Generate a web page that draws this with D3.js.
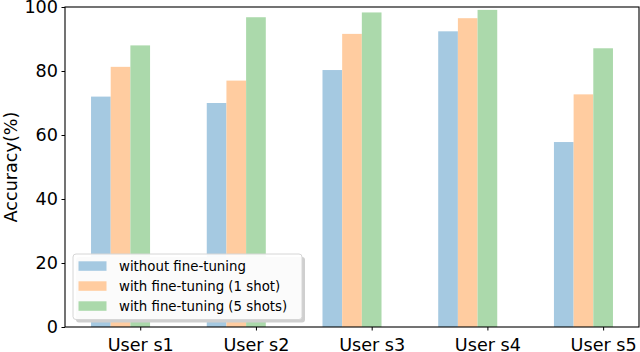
<!DOCTYPE html>
<html><head><meta charset="utf-8">
<script src="https://cdn.jsdelivr.net/npm/d3@7"></script>
<style>body{margin:0;background:#fff}svg{display:block;font-family:"DejaVu Sans",sans-serif}</style>
</head><body><svg id="c" width="640" height="352"></svg>
<script>
const categories = ["User s1","User s2","User s3","User s4","User s5"];
const seriesNames = ["without fine-tuning","with fine-tuning (1 shot)","with fine-tuning (5 shots)"];
const withoutFT = [72.0, 70.0, 80.3, 92.4, 57.8];
const oneShot   = [81.3, 77.0, 91.6, 96.5, 72.7];
const fiveShots = [88.0, 96.8, 98.3, 99.1, 87.1];
const yTicks = [0,20,40,60,80,100];
const colors = ["#a5c9e1","#ffcca0","#abd9ab"];
const series = [withoutFT, oneShot, fiveShots];

const svg = d3.select("#c");
const L=65, R=639, T=7, B=327;
const barW = 0.17;
const x = d3.scaleLinear().domain([-0.65, 4.31]).range([L,R]);
const y = d3.scaleLinear().domain([0,100]).range([B,T]);

// bars
series.forEach((vals,si)=>{
  svg.append("g").selectAll("rect").data(vals).join("rect")
    .attr("x",(d,i)=>x(i + (si-2)*barW - barW/2))
    .attr("width",x(barW)-x(0))
    .attr("y",d=>y(d))
    .attr("height",d=>y(0)-y(d))
    .attr("fill",colors[si]);
});

// axes
const yAxis = d3.axisLeft(y).tickValues(yTicks).tickSize(3.5).tickPadding(3.5);
const gy = svg.append("g").attr("transform",`translate(${L},0)`).call(yAxis);
gy.select(".domain").remove();
gy.selectAll("text").attr("font-size","17.6px").attr("fill","#000").attr("font-family","DejaVu Sans");
gy.selectAll("line").attr("stroke","#000");

const xAxis = d3.axisBottom(x).tickValues(d3.range(categories.length)).tickFormat(i=>categories[i]).tickSize(3.5).tickPadding(3.5);
const gx = svg.append("g").attr("transform",`translate(0,${B})`).call(xAxis);
gx.select(".domain").remove();
gx.selectAll("text").attr("font-size","17.6px").attr("fill","#000").attr("font-family","DejaVu Sans").attr("dy",null).attr("y",23.5);
gx.selectAll("line").attr("stroke","#000");

// spines
svg.append("rect").attr("x",L).attr("y",T).attr("width",R-L).attr("height",B-T)
  .attr("fill","none").attr("stroke","#000").attr("stroke-width",1.1);

// y label
svg.append("text").attr("transform",`translate(17,${(T+B)/2}) rotate(-90)`)
  .attr("text-anchor","middle").attr("font-size","17.6px").text("Accuracy(%)");

// legend
const lg = svg.append("g");
const lx=73, ly=254, lw=229, lh=65.5;
lg.append("rect").attr("x",lx+3).attr("y",ly+3).attr("width",lw).attr("height",lh).attr("rx",3)
  .attr("fill","#cfcfcf");
lg.append("rect").attr("x",lx).attr("y",ly).attr("width",lw).attr("height",lh).attr("rx",3)
  .attr("fill","#fff").attr("fill-opacity",0.92).attr("stroke","#d6d6d6").attr("stroke-width",1);
seriesNames.forEach((n,i)=>{
  const cy = 266 + i*20;
  lg.append("rect").attr("x",78.5).attr("y",cy-4.7).attr("width",28).attr("height",9.5).attr("fill",colors[i]);
  lg.append("text").attr("x",119).attr("y",cy).attr("dy","0.36em").attr("font-size","13.33px").text(n);
});
</script></body></html>
